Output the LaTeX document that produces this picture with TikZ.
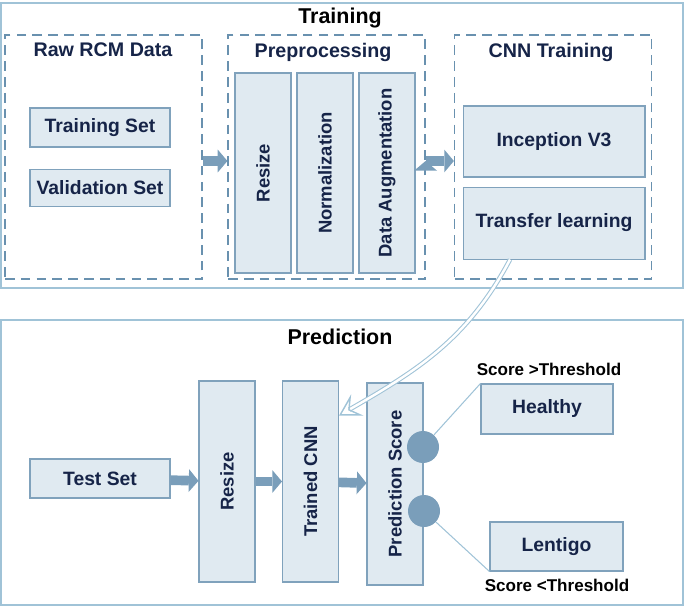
\documentclass[tikz,border=0pt]{standalone}
\usepackage{fontspec}
\setmainfont{Liberation Sans}
\usetikzlibrary{arrows.meta,positioning}

\definecolor{boxfill}{RGB}{224,234,241}
\definecolor{boxline}{RGB}{128,162,188}
\definecolor{dashline}{RGB}{105,145,175}
\definecolor{frameline}{RGB}{160,195,215}
\definecolor{labeltext}{RGB}{22,36,72}
\definecolor{arrowfill}{RGB}{122,158,186}

\begin{document}
\begin{tikzpicture}[x=0.02cm,y=-0.02cm,
  frame node/.style={rectangle,draw=frameline,line width=0.8pt,inner sep=0pt,minimum width=13.64cm,minimum height=5.7cm},
  dash node/.style={rectangle,draw=dashline,dash pattern=on 5.5pt off 3.5pt,line width=0.7pt,minimum width=3.94cm,minimum height=4.88cm,inner sep=0pt},
  title node/.style={font=\fontsize{12.2}{14}\selectfont\bfseries},
  head node/.style={text=labeltext,font=\fontsize{11.2}{13}\selectfont\bfseries},
  note node/.style={font=\fontsize{9.7}{11}\selectfont\bfseries},
  set node/.style={rectangle,fill=boxfill,draw=boxline,line width=0.6pt,inner sep=0pt,text=labeltext,font=\fontsize{11}{13}\selectfont\bfseries},
  col node/.style={set node,rotate=90,minimum width=4cm,minimum height=1.12cm,font=\fontsize{10.5}{12}\selectfont\bfseries},
  dot node/.style={circle,fill=arrowfill,minimum size=0.64cm,inner sep=0pt},
  fat/.style={draw=arrowfill,line width=5.5pt,-{Triangle[length=5.5pt,width=13pt,line width=0pt,color=arrowfill]}},
  feed/.style={draw=frameline,line width=0.6pt,double=white,double distance=1.4pt,-{Stealth[open,length=12pt,width=14pt,inset=5pt,line width=0.8pt]}},
  link/.style={draw=frameline,line width=0.6pt}]

  \useasboundingbox (0,0) rectangle (685,607);

  % training part
  \node[frame node] (trainframe) at (342,145.5) {};
  \node[title node] (traintitle) at (340,18) {Training};

  \node[dash node] (rawbox) at (103.5,157) {};
  \node[dash node] (prepbox) at (326.5,157) {};
  \node[dash node] (cnnbox) at (553,157) {};
  \node[head node] (rawtitle) at (103,50) {Raw RCM Data};
  \node[head node] (preptitle) at (323,52) {Preprocessing};
  \node[head node] (cnntitle) at (551,52) {CNN Training};

  \node[set node,minimum width=2.8cm,minimum height=0.78cm] (trainset) at (100,127.5) {Training Set};
  \node[set node,minimum width=2.8cm,minimum height=0.74cm,below=0.42cm of trainset] (valset) {Validation Set};

  \node[col node] (resizeA) at (263,173) {Resize};
  \node[col node] (norm) at (325,173) {Normalization};
  \node[col node] (augment) at (387,173) {Data Augmentation};

  \node[set node,minimum width=3.64cm,minimum height=1.42cm] (incep) at (554,141.5) {Inception V3};
  \node[set node,minimum width=3.64cm,minimum height=1.44cm,below=0.18cm of incep] (transfer) {Transfer learning};

  % prediction part
  \node[frame node] (predframe) at (342,462.5) {};
  \node[title node] (predtitle) at (340,337) {Prediction};

  \node[set node,minimum width=2.8cm,minimum height=0.78cm] (testset) at (100,478.5) {Test Set};
  \node[col node,minimum width=4.02cm] (resizeB) at (227,481.5) {Resize};
  \node[col node,minimum width=4.02cm] (trained) at (310.5,481.5) {Trained CNN};
  \node[col node,minimum width=4.04cm] (score) at (395,484) {Prediction Score};

  \node[dot node] (hi) at (423,447) {};
  \node[dot node] (lo) at (424,511) {};
  \node[set node,minimum width=2.64cm,minimum height=1cm] (healthy) at (547,409) {Healthy};
  \node[set node,minimum width=2.66cm,minimum height=0.98cm] (lentigo) at (556.5,546.5) {Lentigo};
  \node[note node] (hinote) at (549,369) {Score >Threshold};
  \node[note node] (lonote) at (557,585) {Score <Threshold};

  \path[fat]
    ([yshift=-0.08cm]rawbox.east) edge ([yshift=-0.08cm]prepbox.west)
    ([yshift=-0.08cm]prepbox.east) edge ([yshift=-0.08cm]cnnbox.west)
    (testset) edge (resizeB)
    (resizeB) edge (trained)
    (trained) edge (score)
    ;

  \path[link]
    (hi) edge (healthy.north west)
    (lo) edge (lentigo.south west)
    ;

  \draw[feed] ([xshift=-0.88cm]transfer.south) to[out=-118,in=30] ([yshift=1.32cm]trained.south);

\end{tikzpicture}
\end{document}
